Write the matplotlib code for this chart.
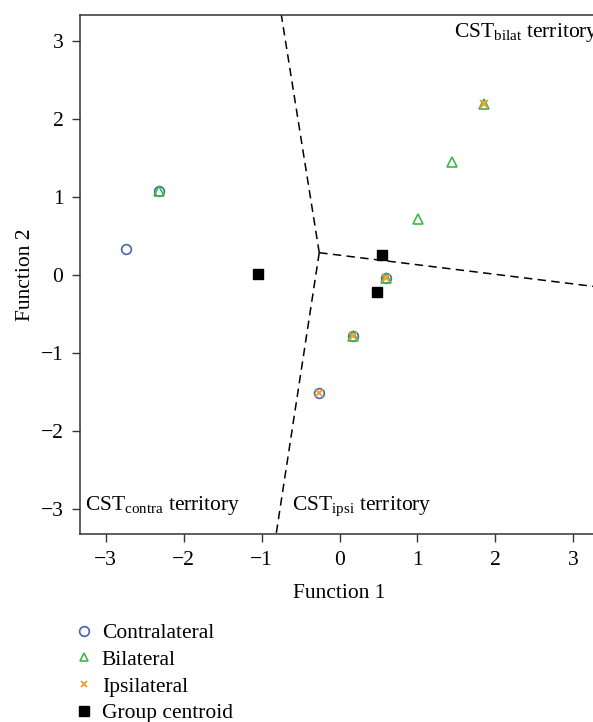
import matplotlib
matplotlib.use("Agg")
import matplotlib.pyplot as plt
from matplotlib.lines import Line2D

plt.rcParams['font.family'] = ['Liberation Serif', 'DejaVu Serif']
plt.rcParams['mathtext.fontset'] = 'custom'
plt.rcParams['mathtext.rm'] = 'Liberation Serif'
plt.rcParams['mathtext.it'] = 'Liberation Serif:italic'

# Data
contra_x = [-2.74, -2.31, 0.60, 0.17, -0.26]
contra_y = [0.34, 1.08, -0.04, -0.78, -1.51]
bilat_x = [-2.31, 0.60, 0.17, 1.86, 1.44, 1.01]
bilat_y = [1.08, -0.04, -0.78, 2.20, 1.46, 0.72]
ipsi_x = [1.86, 0.60, 0.17, -0.26]
ipsi_y = [2.20, -0.04, -0.78, -1.51]
cent_x = [-1.04, 0.54, 0.48]
cent_y = [0.02, 0.26, -0.22]

junction = (-0.26, 0.29)
boundary_ends_x = [-0.756, -0.825, 3.40]
boundary_ends_y = [3.40, -3.40, -0.16]

xticks = [-3, -2, -1, 0, 1, 2, 3]
yticks = [-3, -2, -1, 0, 1, 2, 3]

c_blue = '#4664b4'
c_green = '#3cb84a'
c_orange = '#f59a2a'

W, H = 593, 722
fig = plt.figure(figsize=(W / 100, H / 100), dpi=100)
ax = fig.add_axes([80 / W, (H - 534) / H, 519 / W, 519 / H])

fs = 15.5

for ex, ey in zip(boundary_ends_x, boundary_ends_y):
    ax.plot([junction[0], ex], [junction[1], ey], color='black', lw=1.1,
            dashes=(5.5, 3.5), zorder=1)

ax.plot(contra_x, contra_y, linestyle='none', marker='o', ms=7, mfc='none',
        mec=c_blue, mew=1.2, zorder=3)
ax.plot(bilat_x, bilat_y, linestyle='none', marker='^', ms=6.5, mfc='none',
        mec=c_green, mew=1.2, zorder=4)
ax.plot(ipsi_x, ipsi_y, linestyle='none', marker='x', ms=5.5,
        mec=c_orange, mew=1.3, zorder=5)
ax.plot(cent_x, cent_y, linestyle='none', marker='s', ms=7, mfc='black',
        mec='black', zorder=6)

ax.text(-3.26, -3.01, r'CST$_{\mathrm{contra}}$ territory', fontsize=fs,
        ha='left', va='baseline')
ax.text(-0.61, -3.01, r'CST$_{\mathrm{ipsi}}$ territory', fontsize=fs,
        ha='left', va='baseline')
ax.text(1.47, 3.057, r'CST$_{\mathrm{bilat}}$ territory', fontsize=fs,
        ha='left', va='baseline')

ax.set_xlim(-3.33, 3.33)
ax.set_ylim(-3.32, 3.34)
ax.set_xticks(xticks)
ax.set_yticks(yticks)
ax.set_xticklabels(['\u2212' + str(-t) if t < 0 else str(t) for t in xticks])
ax.set_yticklabels(['\u2212' + str(-t) if t < 0 else str(t) for t in yticks])
ax.tick_params(direction='out', length=6, width=1, color='#333333',
               labelsize=fs, pad=6)
for s in ax.spines.values():
    s.set_color('#333333')
    s.set_linewidth(1.1)

ax.set_xlabel('Function 1', fontsize=fs, labelpad=10)
ax.set_ylabel('Function 2', fontsize=fs, labelpad=4)

handles = [
    Line2D([], [], linestyle='none', marker='o', ms=7, mfc='none', mec=c_blue, mew=1.2),
    Line2D([], [], linestyle='none', marker='^', ms=6, mfc='none', mec=c_green, mew=1.2),
    Line2D([], [], linestyle='none', marker='x', ms=5, mec=c_orange, mew=1.3),
    Line2D([], [], linestyle='none', marker='s', ms=7, mfc='black', mec='black'),
]
labels = ['Contralateral', 'Bilateral', 'Ipsilateral', 'Group centroid']
fig.legend(handles, labels, loc='upper left', bbox_to_anchor=(76 / W, 1 - 623 / H),
           frameon=False, fontsize=fs, handlelength=0.75, handletextpad=0.45,
           borderpad=0, borderaxespad=0, labelspacing=0.31)

fig.savefig('out.png', dpi=100)
